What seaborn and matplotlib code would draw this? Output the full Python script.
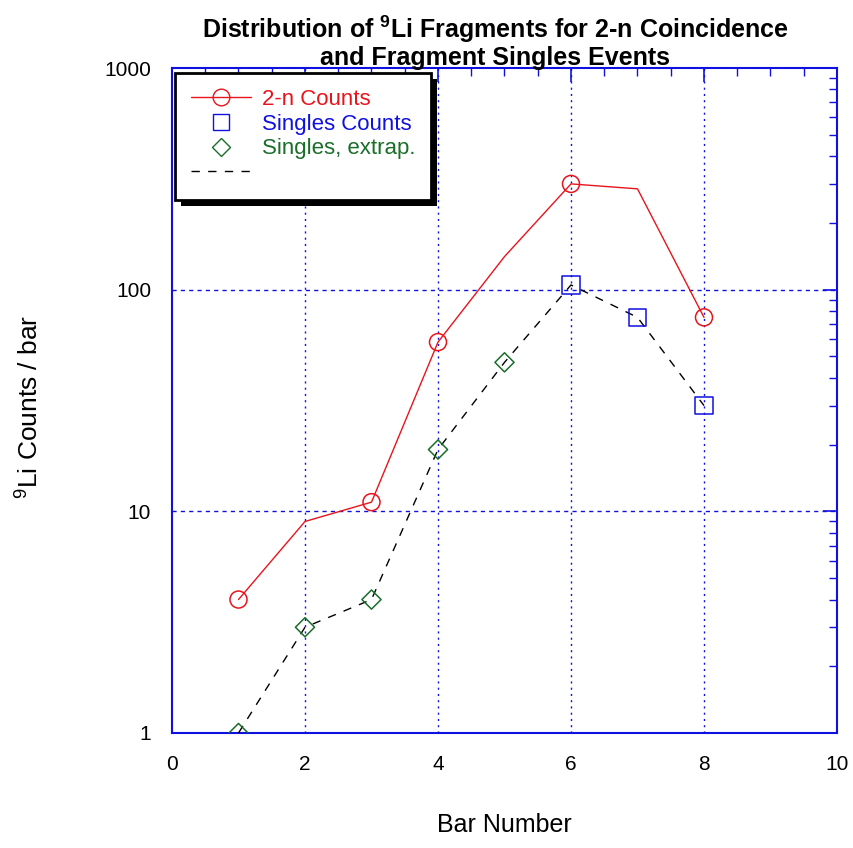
import matplotlib
matplotlib.use("Agg")
import matplotlib.pyplot as plt
import seaborn as sns
import pandas as pd
from matplotlib.lines import Line2D
from matplotlib.patches import Rectangle
from matplotlib.ticker import MultipleLocator, LogLocator, FixedLocator, NullFormatter, FixedFormatter

# 2-n coincidence counts per bar (line through every bar, markers on measured bars)
bars = [1, 2, 3, 4, 5, 6, 7, 8]
two_n_counts = [4, 9, 11, 58, 141, 300, 285, 75]
two_n_marked_bars = [1, 3, 4, 6, 8]
two_n_marked_counts = [4, 11, 58, 300, 75]

# fragment singles: measured and extrapolated
singles_bars = [6, 7, 8]
singles_counts = [105, 75, 30]
extrap_bars = [1, 2, 3, 4, 5]
extrap_counts = [1, 3, 4, 19, 47]
singles_all = [1, 3, 4, 19, 47, 105, 75, 30]

x_ticks = [0, 2, 4, 6, 8, 10]
y_ticks = [1, 10, 100, 1000]

sns.set_theme(style="white")
plt.rcParams["font.family"] = ["Liberation Sans", "DejaVu Sans"]
plt.rcParams["text.color"] = "black"
plt.rcParams["axes.labelcolor"] = "black"
plt.rcParams["mathtext.fontset"] = "custom"
plt.rcParams["mathtext.rm"] = "Liberation Sans"
plt.rcParams["mathtext.it"] = "Liberation Sans"
plt.rcParams["mathtext.bf"] = "Liberation Sans:bold"

fig = plt.figure(figsize=(8.54, 8.48), dpi=100)
ax = fig.add_axes([172 / 854, 1 - 733 / 848, 665 / 854, 665 / 848])

blue = "#1010e0"
red = "#e8141c"
green = "#1a6e2a"

df_2n = pd.DataFrame({"bar": bars, "counts": two_n_counts})
df_s = pd.DataFrame({"bar": bars, "counts": singles_all})

sns.lineplot(data=df_2n, x="bar", y="counts", ax=ax, color=red, lw=1.0, zorder=3)
sns.lineplot(data=df_s, x="bar", y="counts", ax=ax, color="black", lw=1.0,
             dashes=False, zorder=3)
ax.lines[-1].set_dashes([6, 6])
sns.scatterplot(x=two_n_marked_bars, y=two_n_marked_counts, ax=ax, marker="o", s=150,
                facecolor="none", edgecolor=red, linewidth=1.1, zorder=4)
sns.scatterplot(x=singles_bars, y=singles_counts, ax=ax, marker="s", s=160,
                facecolor="none", edgecolor=blue, linewidth=1.1, zorder=4)
sns.scatterplot(x=extrap_bars, y=extrap_counts, ax=ax, marker="D", s=95,
                facecolor="none", edgecolor=green, linewidth=1.1, zorder=4)

ax.set_xlim(0, 10)
ax.set_yscale("log")
ax.set_ylim(1, 1000)

ax.xaxis.set_major_locator(FixedLocator(x_ticks))
ax.xaxis.set_major_formatter(FixedFormatter([str(t) for t in x_ticks]))
ax.xaxis.set_minor_locator(MultipleLocator(0.5))
ax.yaxis.set_major_locator(FixedLocator(y_ticks))
ax.yaxis.set_major_formatter(FixedFormatter([str(t) for t in y_ticks]))
ax.yaxis.set_minor_locator(LogLocator(base=10, subs=range(2, 10)))
ax.yaxis.set_minor_formatter(NullFormatter())

ax.tick_params(which="both", direction="in", top=True, right=True, color=blue,
               labelsize=15, labelcolor="black")
ax.tick_params(which="major", length=10, width=1.2)
ax.tick_params(axis="x", which="major", pad=16)
ax.tick_params(axis="y", which="major", pad=15)
ax.tick_params(which="minor", length=6, width=1.0)

for s in ax.spines.values():
    s.set_color(blue)
    s.set_linewidth(1.5)

# grid lines
for xv in [2, 4, 6, 8]:
    ax.axvline(xv, color=blue, lw=1.0, ls=(0, (1.5, 3)), zorder=1)
for yv in [10, 100]:
    ax.axhline(yv, color=blue, lw=1.0, ls=(0, (3, 3)), zorder=1)

ax.set_xlabel("Bar Number", fontsize=18)
ax.xaxis.set_label_coords(0.5, -0.12)
ax.set_ylabel("$^{9}$Li Counts / bar", fontsize=19)
ax.yaxis.set_label_coords(-0.193, 0.49)

fig.text(0.58, 1 - 42 / 848,
         "Distribution of $^{\\mathbf{9}}$Li Fragments for 2-n Coincidence\nand Fragment Singles Events",
         ha="center", va="center", fontsize=18, fontweight="bold",
         family=["Liberation Sans Narrow", "Liberation Sans", "DejaVu Sans"],
         linespacing=1.05)

handles = [
    Line2D([], [], color=red, lw=1.0, marker="o", markersize=12,
           markerfacecolor="none", markeredgecolor=red),
    Line2D([], [], color="none", marker="s", markersize=12,
           markerfacecolor="none", markeredgecolor=blue),
    Line2D([], [], color="none", marker="D", markersize=9,
           markerfacecolor="none", markeredgecolor=green),
    Line2D([], [], color="black", lw=1.0, dashes=[6, 6]),
]
labels = ["2-n Counts", "Singles Counts", "Singles, extrap.", " "]
leg = ax.legend(handles, labels, loc="upper left", bbox_to_anchor=(0.005, 0.992),
                fontsize=16, frameon=True, fancybox=False, handlelength=2.7,
                borderpad=0.7, labelspacing=0.17, handletextpad=0.5,
                borderaxespad=0.0)
leg.get_frame().set_edgecolor("black")
leg.get_frame().set_linewidth(2.0)
leg.get_frame().set_alpha(1)
for txt, c in zip(leg.get_texts(), [red, blue, green, "black"]):
    txt.set_color(c)
leg.set_zorder(10)

# drop shadow behind the legend box
fig.canvas.draw()
bb = leg.get_window_extent()
shadow = Rectangle((bb.x0 + 6, bb.y0 - 6), bb.width, bb.height, transform=None,
                   facecolor="black", edgecolor="none", zorder=9)
ax.add_artist(shadow)

fig.savefig("out.png", dpi=100)
